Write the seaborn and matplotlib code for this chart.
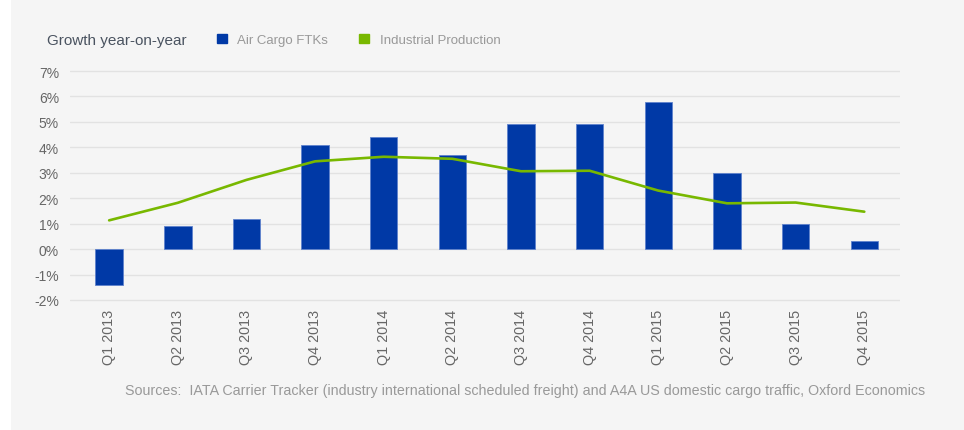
import pandas as pd
import matplotlib.pyplot as plt
import matplotlib.patches as mpatches
from matplotlib.ticker import FuncFormatter
import seaborn as sns

quarters = ['Q1 2013', 'Q2 2013', 'Q3 2013', 'Q4 2013',
            'Q1 2014', 'Q2 2014', 'Q3 2014', 'Q4 2014',
            'Q1 2015', 'Q2 2015', 'Q3 2015', 'Q4 2015']
air_cargo_ftks = [-1.4, 0.9, 1.2, 4.1, 4.4, 3.7, 4.9, 4.9, 5.8, 3.0, 1.0, 0.33]
industrial_production = [1.13, 1.82, 2.72, 3.45, 3.63, 3.55, 3.06, 3.08, 2.3, 1.8, 1.83, 1.47]

BLUE = '#0039a6'
GREEN = '#78b800'
BG = '#f5f5f5'


def draw():
    df = pd.DataFrame({'quarter': quarters,
                       'ftk': air_cargo_ftks,
                       'ip': industrial_production})

    sns.set_style('white')
    plt.rcParams['font.family'] = ['Liberation Sans', 'DejaVu Sans']

    fig = plt.figure(figsize=(9.64, 4.31), dpi=100, facecolor='white')
    # grey panel (thin white strip on the left like the original)
    fig.patches.append(mpatches.Rectangle((11 / 964, 0), 1, 1, transform=fig.transFigure,
                                          facecolor=BG, edgecolor='none', zorder=-10))
    ax = fig.add_axes([70 / 964, 1 - 303 / 431, 830 / 964, 233 / 431])
    ax.set_facecolor(BG)

    sns.barplot(data=df, x='quarter', y='ftk', color=BLUE, width=0.4, saturation=1,
                edgecolor='#5f82cc', linewidth=0.6, ax=ax, zorder=3)
    sns.lineplot(data=df, x='quarter', y='ip', color=GREEN, linewidth=1.9,
                 sort=False, ax=ax, zorder=4)

    ax.set_ylim(-2.08, 7.08)
    ax.set_xlim(-0.57, 11.52)
    ax.set_yticks(range(-2, 8))
    ax.yaxis.set_major_formatter(FuncFormatter(lambda v, _: f'{int(v)}%'))
    ax.grid(axis='y', color='#e2e2e2', linewidth=1.0, zorder=0)
    ax.grid(axis='x', visible=False)
    for s in ax.spines.values():
        s.set_visible(False)
    ax.set_xlabel('')
    ax.set_ylabel('')
    ax.tick_params(axis='y', length=0, pad=8, labelsize=10, labelcolor='#666666')
    ax.tick_params(axis='x', length=0, pad=5, labelsize=10.4, labelcolor='#666666',
                   labelrotation=90)

    fig.text(47 / 964, 1 - 41 / 431, 'Growth year-on-year', fontsize=11,
             color='#4a5360', va='center', ha='left')
    handles = [mpatches.Patch(color=BLUE, label='Air Cargo FTKs'),
               mpatches.Patch(color=GREEN, label='Industrial Production')]
    fig.legend(handles=handles, ncol=2, frameon=False, loc='center left',
               bbox_to_anchor=(205 / 964, 1 - 41 / 431), fontsize=9.5,
               handlelength=0.75, handleheight=0.75, handletextpad=0.8,
               columnspacing=2.35, labelcolor='#999999')

    fig.text(125 / 964, 1 - 391 / 431,
             'Sources:  IATA Carrier Tracker (industry international scheduled freight) '
             'and A4A US domestic cargo traffic, Oxford Economics',
             fontsize=10.3, color='#999999', va='center', ha='left')

    fig.savefig('out.png', dpi=100, facecolor=fig.get_facecolor())


if __name__ == '__main__':
    draw()
